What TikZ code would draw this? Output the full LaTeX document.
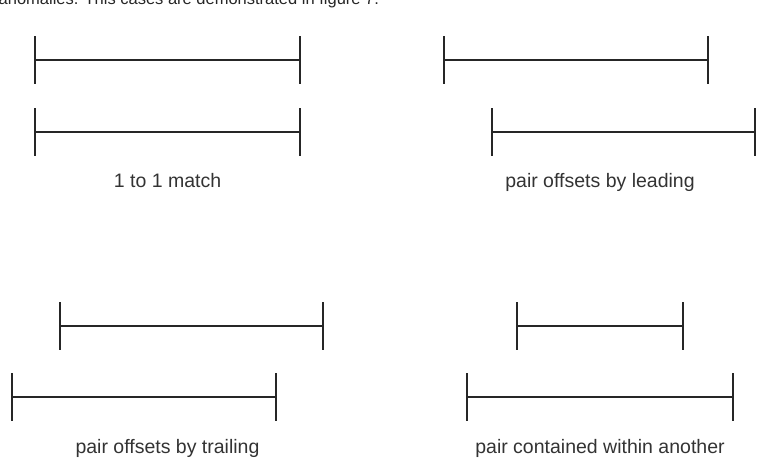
\documentclass[tikz,border=0pt]{standalone}
\usepackage{fontspec}
\setmainfont{Liberation Sans}
\usepackage{tikz}
\usetikzlibrary{positioning,calc}

\begin{document}
\begin{tikzpicture}[
    x=1pt, y=-1pt,
    bar/.style={line width=2.2pt, black!85},
    stop/.style={line width=2.7pt, black!85},
    caption/.style={font=\fontsize{19.5}{22}\selectfont, text=black!80, anchor=base},
    bodytext/.style={font=\fontsize{16.5}{19}\selectfont, text=black!85, anchor=base west, inner sep=0pt}
]
    \useasboundingbox (0,0) rectangle (764,472);

    \node[bodytext] (prose) at (-1.5,4.5) {anomalies. This cases are demonstrated in figure 7.};

    % 1 to 1 match
    \coordinate (oneAl) at (35,60);    \coordinate (oneAr) at (300,60);
    \coordinate (oneBl) at (35,132);   \coordinate (oneBr) at (300,132);
    % leading
    \coordinate (leadAl) at (444,60);   \coordinate (leadAr) at (708,60);
    \coordinate (leadBl) at (492,132);  \coordinate (leadBr) at (755,132);
    % trailing
    \coordinate (trailAl) at (60,326);  \coordinate (trailAr) at (323,326);
    \coordinate (trailBl) at (12,397);  \coordinate (trailBr) at (276,397);
    % contained
    \coordinate (inAl) at (517,326);    \coordinate (inAr) at (683,326);
    \coordinate (inBl) at (467,397);    \coordinate (inBr) at (733,397);

    \draw[bar] (oneAl) -- (oneAr);
    \draw[bar] (oneBl) -- (oneBr);
    \draw[bar] (leadAl) -- (leadAr);
    \draw[bar] (leadBl) -- (leadBr);
    \draw[bar] (trailAl) -- (trailAr);
    \draw[bar] (trailBl) -- (trailBr);
    \draw[bar] (inAl) -- (inAr);
    \draw[bar] (inBl) -- (inBr);

    \draw[stop] ([yshift=24pt]oneAl) -- ([yshift=-24pt]oneAl);
    \draw[stop] ([yshift=24pt]oneAr) -- ([yshift=-24pt]oneAr);
    \draw[stop] ([yshift=24pt]oneBl) -- ([yshift=-24pt]oneBl);
    \draw[stop] ([yshift=24pt]oneBr) -- ([yshift=-24pt]oneBr);
    \draw[stop] ([yshift=24pt]leadAl) -- ([yshift=-24pt]leadAl);
    \draw[stop] ([yshift=24pt]leadAr) -- ([yshift=-24pt]leadAr);
    \draw[stop] ([yshift=24pt]leadBl) -- ([yshift=-24pt]leadBl);
    \draw[stop] ([yshift=24pt]leadBr) -- ([yshift=-24pt]leadBr);
    \draw[stop] ([yshift=24pt]trailAl) -- ([yshift=-24pt]trailAl);
    \draw[stop] ([yshift=24pt]trailAr) -- ([yshift=-24pt]trailAr);
    \draw[stop] ([yshift=24pt]trailBl) -- ([yshift=-24pt]trailBl);
    \draw[stop] ([yshift=24pt]trailBr) -- ([yshift=-24pt]trailBr);
    \draw[stop] ([yshift=24pt]inAl) -- ([yshift=-24pt]inAl);
    \draw[stop] ([yshift=24pt]inAr) -- ([yshift=-24pt]inAr);
    \draw[stop] ([yshift=24pt]inBl) -- ([yshift=-24pt]inBl);
    \draw[stop] ([yshift=24pt]inBr) -- ([yshift=-24pt]inBr);

    \node[caption] (oneLbl) at (167.5,187) {1 to 1 match};
    \node[caption] (leadLbl) at (600,187) {pair offsets by leading};
    \node[caption] (trailLbl) at (167.5,453) {pair offsets by trailing};
    \node[caption] (inLbl) at (600,453) {pair contained within another};
\end{tikzpicture}
\end{document}
